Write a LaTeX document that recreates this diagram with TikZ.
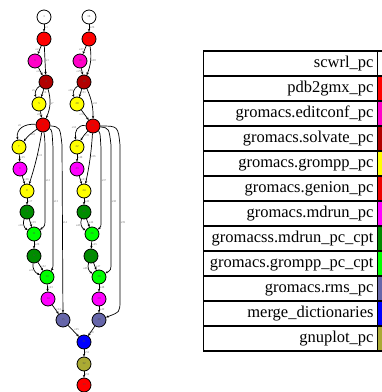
\documentclass[tikz,border=0pt]{standalone}
\usepackage{graphicx}
\usepackage{fontspec}
\setmainfont{Liberation Serif}
\usetikzlibrary{arrows.meta}
\usetikzlibrary{positioning}

\definecolor{scwrl}{RGB}{255,255,255}
\definecolor{pdbgmx}{RGB}{255,0,0}
\definecolor{editconf}{RGB}{255,0,200}
\definecolor{solvate}{RGB}{178,0,0}
\definecolor{grompp}{RGB}{255,255,0}
\definecolor{genion}{RGB}{238,0,0}
\definecolor{mdrun}{RGB}{255,0,255}
\definecolor{mdruncpt}{RGB}{0,140,0}
\definecolor{gromppcpt}{RGB}{0,255,0}
\definecolor{rms}{RGB}{102,102,170}
\definecolor{merge}{RGB}{0,0,255}
\definecolor{gnuplot}{RGB}{170,170,51}

% tiny labels: set at 10pt and shrink the box
\newcommand{\wee}[1]{\scalebox{0.3}{#1}}

\begin{document}
\begin{tikzpicture}[x=1pt,y=-1pt,
    job/.style={circle, draw, line width=0.8pt, minimum size=14pt, inner sep=0pt,
        font=\fontsize{10}{12}\selectfont, text=black!70},
    wire/.style={-{Stealth[length=2.8pt,width=2.4pt]}, line width=0.7pt},
    tag/.style={font=\fontsize{10}{12}\selectfont, text=black!55, inner sep=0.6pt},
    cell/.style={draw, line width=1.2pt, outer sep=0pt, minimum height=25pt,
        text width=166pt, inner xsep=4.2pt, inner ysep=0pt, align=right,
        text height=12pt, text depth=4pt, font=\fontsize{16.5}{18}\selectfont},
    swatch/.style={draw, line width=1.2pt, outer sep=0pt, minimum height=25pt,
        minimum width=14pt, inner sep=0pt}]
        \clip (0,0) rectangle (382,392);

        % first chain
        \node[job, fill=scwrl] (n1) at (44,17) {\wee{1}};
        \node[job, fill=pdbgmx] (n2) at (44,39) {\wee{2}};
        \node[job, fill=editconf] (n3) at (35,61) {\wee{3}};
        \node[job, fill=solvate] (n4) at (46,82) {\wee{4}};
        \node[job, fill=grompp] (n5) at (39,104) {\wee{5}};
        \node[job, fill=genion] (n6) at (43,125) {\wee{6}};
        \node[job, fill=grompp] (n7) at (19,147) {\wee{7}};
        \node[job, fill=mdrun] (n8) at (20,169) {\wee{8}};
        \node[job, fill=grompp] (n9) at (27,191) {\wee{9}};
        \node[job, fill=mdruncpt] (n10) at (27,212) {\wee{10}};
        \node[job, fill=gromppcpt] (n11) at (34,234) {\wee{11}};
        \node[job, fill=mdruncpt] (n12) at (34,256) {\wee{12}};
        \node[job, fill=gromppcpt] (n13) at (47,277) {\wee{13}};
        \node[job, fill=mdrun] (n14) at (48,299) {\wee{14}};
        \node[job, fill=rms] (n15) at (63,320) {\wee{15}};

        % second chain
        \node[job, fill=scwrl] (n16) at (89,17) {\wee{16}};
        \node[job, fill=pdbgmx] (n17) at (89,39) {\wee{17}};
        \node[job, fill=editconf] (n18) at (80,61) {\wee{18}};
        \node[job, fill=solvate] (n19) at (84,82) {\wee{19}};
        \node[job, fill=grompp] (n20) at (77,104) {\wee{20}};
        \node[job, fill=genion] (n21) at (93,126) {\wee{21}};
        \node[job, fill=grompp] (n22) at (77,147) {\wee{22}};
        \node[job, fill=mdrun] (n23) at (77,169) {\wee{23}};
        \node[job, fill=grompp] (n24) at (84,191) {\wee{24}};
        \node[job, fill=mdruncpt] (n25) at (84,212) {\wee{25}};
        \node[job, fill=gromppcpt] (n26) at (92,234) {\wee{26}};
        \node[job, fill=mdruncpt] (n27) at (91,256) {\wee{27}};
        \node[job, fill=gromppcpt] (n28) at (99,277) {\wee{28}};
        \node[job, fill=mdrun] (n29) at (99,299) {\wee{29}};
        \node[job, fill=rms] (n30) at (99,320) {\wee{30}};

        % merged tail
        \node[job, fill=merge] (n31) at (84,342) {\wee{31}};
        \node[job, fill=gnuplot] (n32) at (84,364) {\wee{32}};
        \node[job, fill=pdbgmx] (n33) at (84,385) {\wee{33}};

        % edges of the first chain
        \path[wire] (n1) edge node[tag,right] {\wee{e1}} (n2);
        \path[wire] (n2) edge node[tag,left] {\wee{e2}} (n3);
        \path[wire] (n2) edge node[tag,right] {\wee{e3}} (n4);
        \path[wire] (n3) edge node[tag,left] {\wee{e4}} (n4);
        \path[wire] (n4) edge [bend right=40] node[tag,left] {\wee{e5}} (n5);
        \path[wire] (n4) edge node[tag,right] {\wee{e6}} (n5);
        \path[wire] (n4) edge [bend left=20] node[tag,right] {\wee{e7}} (n6);
        \path[wire] (n5) edge node[tag,left] {\wee{e8}} (n6);
        \path[wire] (n6) edge [out=175, in=100, looseness=1.2] node[tag,above left] {\wee{e9}} (n7);
        \path[wire] (n6) edge [bend right=8] node[tag,right] {\wee{e10}} (n7);
        \path[wire] (n6) edge [bend left=4] node[tag,right,pos=0.45] {\wee{e11}} (n9);
        \draw[wire] (n6) .. controls (45,140) .. (45,160) -- (45,218)
            .. controls (45,226) .. (n11);
        \draw[wire] (n6) .. controls (52,130) .. (53,148) -- (53,258)
            .. controls (53,268) .. (n13);
        \draw[wire] (n6) .. controls (60,127) .. (62,145) -- (n15);
        \node[tag, right] (l12) at (45,181) {\wee{e12}};
        \node[tag, right] (l13) at (53,202) {\wee{e13}};
        \node[tag, right] (l14) at (62,223) {\wee{e14}};
        \path[wire] (n7) edge node[tag,right] {\wee{e15}} (n8);
        \path[wire] (n8) edge node[tag,right] {\wee{e16}} (n9);
        \path[wire] (n9) edge node[tag,right] {\wee{e17}} (n10);
        \path[wire] (n10) edge [bend right=40] node[tag,left] {\wee{e18}} (n11);
        \path[wire] (n10) edge node[tag,right] {\wee{e19}} (n11);
        \path[wire] (n11) edge node[tag,right] {\wee{e20}} (n12);
        \path[wire] (n12) edge [bend right=40] node[tag,left] {\wee{e21}} (n13);
        \path[wire] (n12) edge node[tag,right] {\wee{e22}} (n13);
        \path[wire] (n13) edge node[tag,right] {\wee{e23}} (n14);
        \path[wire] (n14) edge node[tag,right] {\wee{e24}} (n15);
        \path[wire] (n15) edge node[tag,above right] {\wee{e25}} (n31);

        % edges of the second chain
        \path[wire] (n16) edge node[tag,right] {\wee{e26}} (n17);
        \path[wire] (n17) edge node[tag,left] {\wee{e27}} (n18);
        \path[wire] (n17) edge [bend left=15] node[tag,right] {\wee{e28}} (n19);
        \path[wire] (n18) edge node[tag,left] {\wee{e29}} (n19);
        \path[wire] (n19) edge [bend right=40] node[tag,left] {\wee{e30}} (n20);
        \path[wire] (n19) edge node[tag,right] {\wee{e31}} (n20);
        \path[wire] (n19) edge [bend left=12] node[tag,right] {\wee{e32}} (n21);
        \path[wire] (n20) edge node[tag,left] {\wee{e33}} (n21);
        \path[wire] (n21) edge [out=175, in=100, looseness=1.2] node[tag,above left] {\wee{e34}} (n22);
        \path[wire] (n21) edge [bend right=8] node[tag,right] {\wee{e35}} (n22);
        \path[wire] (n21) edge [bend left=4] node[tag,right,pos=0.45] {\wee{e36}} (n24);
        \draw[wire] (n21) .. controls (100,132) .. (101,148) -- (101,220)
            .. controls (101,227) .. (n26);
        \draw[wire] (n21) .. controls (109,128) .. (111,145) -- (111,262)
            .. controls (111,270) .. (n28);
        \draw[wire] (n21) .. controls (118,126) .. (120,145) -- (120,300)
            .. controls (120,312) .. (n30);
        \node[tag, right] (l37) at (101,181) {\wee{e37}};
        \node[tag, right] (l38) at (111,202) {\wee{e38}};
        \node[tag, right] (l39) at (120,223) {\wee{e39}};
        \path[wire] (n22) edge node[tag,right] {\wee{e40}} (n23);
        \path[wire] (n23) edge node[tag,right] {\wee{e41}} (n24);
        \path[wire] (n24) edge node[tag,right] {\wee{e42}} (n25);
        \path[wire] (n25) edge [bend right=40] node[tag,left] {\wee{e43}} (n26);
        \path[wire] (n25) edge node[tag,right] {\wee{e44}} (n26);
        \path[wire] (n26) edge node[tag,right] {\wee{e45}} (n27);
        \path[wire] (n27) edge [bend right=40] node[tag,left] {\wee{e46}} (n28);
        \path[wire] (n27) edge node[tag,right] {\wee{e47}} (n28);
        \path[wire] (n28) edge node[tag,right] {\wee{e48}} (n29);
        \path[wire] (n29) edge node[tag,right] {\wee{e49}} (n30);
        \path[wire] (n30) edge node[tag,below] {\wee{e50}} (n31);
        \path[wire] (n31) edge node[tag,right] {\wee{e51}} (n32);
        \path[wire] (n32) edge node[tag,right] {\wee{e52}} (n33);

        % legend
        \node[cell, anchor=north west] (t1) at (203.3,51) {scwrl\_pc};
        \node[cell, below=0pt of t1] (t2) {pdb2gmx\_pc};
        \node[cell, below=0pt of t2] (t3) {gromacs.editconf\_pc};
        \node[cell, below=0pt of t3] (t4) {gromacs.solvate\_pc};
        \node[cell, below=0pt of t4] (t5) {gromacs.grompp\_pc};
        \node[cell, below=0pt of t5] (t6) {gromacs.genion\_pc};
        \node[cell, below=0pt of t6] (t7) {gromacs.mdrun\_pc};
        \node[cell, below=0pt of t7] (t8) {gromacss.mdrun\_pc\_cpt};
        \node[cell, below=0pt of t8] (t9) {gromacs.grompp\_pc\_cpt};
        \node[cell, below=0pt of t9] (t10) {gromacs.rms\_pc};
        \node[cell, below=0pt of t10] (t11) {merge\_dictionaries};
        \node[cell, below=0pt of t11] (t12) {gnuplot\_pc};

        \node[swatch, fill=scwrl, right=0pt of t1] (s1) {};
        \node[swatch, fill=pdbgmx, right=0pt of t2] (s2) {};
        \node[swatch, fill=editconf, right=0pt of t3] (s3) {};
        \node[swatch, fill=solvate, right=0pt of t4] (s4) {};
        \node[swatch, fill=grompp, right=0pt of t5] (s5) {};
        \node[swatch, fill=genion, right=0pt of t6] (s6) {};
        \node[swatch, fill=mdrun, right=0pt of t7] (s7) {};
        \node[swatch, fill=mdruncpt, right=0pt of t8] (s8) {};
        \node[swatch, fill=gromppcpt, right=0pt of t9] (s9) {};
        \node[swatch, fill=rms, right=0pt of t10] (s10) {};
        \node[swatch, fill=merge, right=0pt of t11] (s11) {};
        \node[swatch, fill=gnuplot, right=0pt of t12] (s12) {};
\end{tikzpicture}
\end{document}
